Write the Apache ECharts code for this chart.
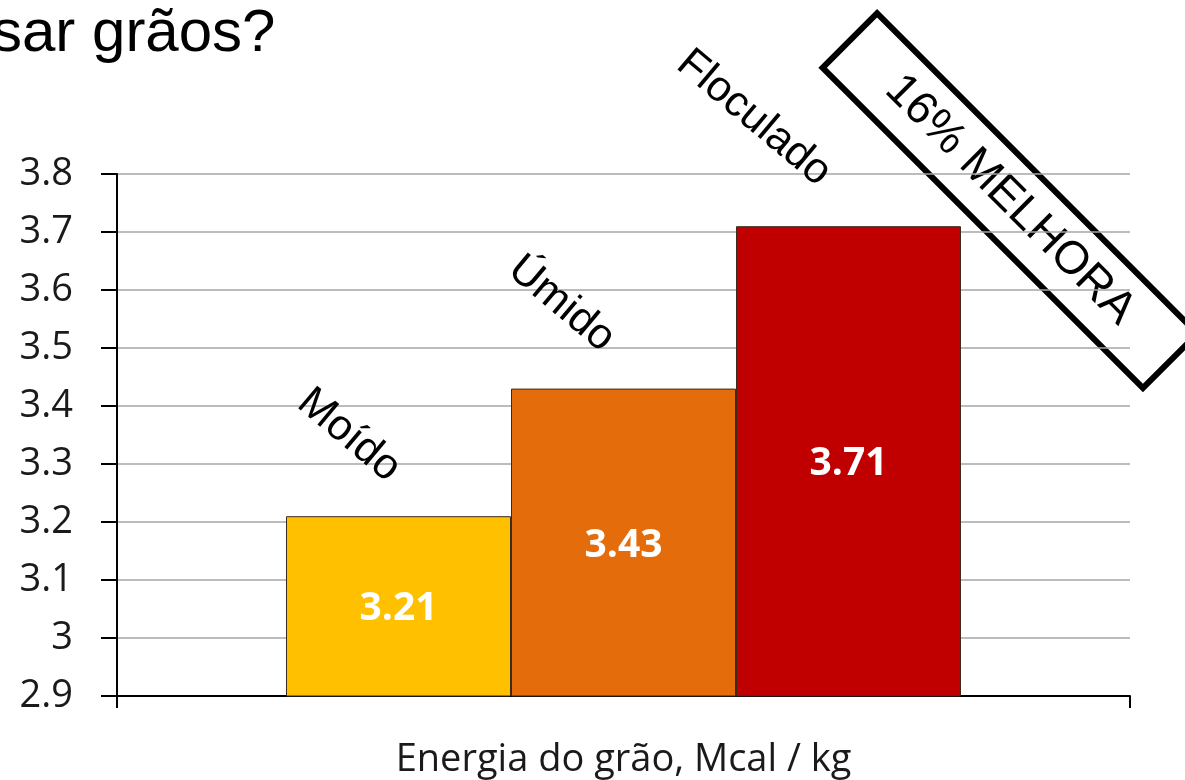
<!DOCTYPE html>
<html>
<head>
<meta charset="utf-8">
<script src="https://cdn.jsdelivr.net/npm/echarts@6/dist/echarts.min.js"></script>
<style>
  html, body { margin: 0; padding: 0; background: #fff; }
  #main { width: 1185px; height: 780px; }
</style>
</head>
<body>
<div id="main"></div>
<script>
// dados
const tipos = ['Moído', 'Úmido', 'Floculado'];
const energia = [3.21, 3.43, 3.71];
const cores = ['#FFC000', '#E46C0A', '#C00000'];
const yMin = 2.9, yMax = 3.8, yStep = 0.1;
const eixoX = 'Energia do grão, Mcal / kg';
const titulo = 'sar grãos?';
const destaque = '16% MELHORA';

// deslocamento dos nomes inclinados (no sistema já girado do texto)
const nomeOffset = [[-90, -30], [-102, -25], [-142, -22]];

let chart = echarts.init(document.getElementById('main'));

let series = tipos.map((t, i) => ({
  name: t,
  type: 'bar',
  data: [energia[i]],
  barWidth: 225,
  barGap: '0%',
  itemStyle: { color: cores[i], borderColor: '#3b2a1e', borderWidth: 1 },
  label: {
    show: true,
    position: 'inside',
    offset: [0, 3],
    formatter: (p) => p.value.toFixed(2),
    color: '#fff',
    fontFamily: 'Open Sans',
    fontWeight: 'bold',
    fontSize: 39
  },
  markPoint: {
    symbol: 'circle',
    symbolSize: 0,
    silent: true,
    data: [{ coord: [0, energia[i]] }],
    label: {
      show: true,
      formatter: t,
      rotate: -40,
      offset: nomeOffset[i],
      color: '#000',
      fontFamily: 'Liberation Sans',
      fontSize: 43
    }
  }
}));

chart.setOption({
  animation: false,
  grid: { left: 117, right: 55, top: 174, bottom: 84, outerBoundsMode: 'none' },
  xAxis: {
    type: 'category',
    data: [''],
    name: eixoX,
    nameLocation: 'middle',
    nameGap: 45,
    nameTextStyle: { fontFamily: 'Open Sans', fontSize: 38, color: '#1a1a1a' },
    axisLine: { lineStyle: { color: '#000', width: 2 } },
    axisTick: { show: true, length: 12, lineStyle: { color: '#000', width: 2 } },
    axisLabel: { show: false }
  },
  yAxis: {
    type: 'value',
    min: yMin,
    max: yMax,
    interval: yStep,
    axisLine: { show: true, lineStyle: { color: '#000', width: 2 } },
    axisTick: { show: true, length: 16, lineStyle: { color: '#000', width: 2 } },
    axisLabel: {
      margin: 44,
      fontFamily: 'Open Sans',
      fontSize: 38,
      color: '#1a1a1a',
      formatter: (v) => String(Math.round(v * 10) / 10)
    },
    splitLine: { lineStyle: { color: '#a6a6a6', width: 1.5 } }
  },
  series: series,
  graphic: [
    {
      type: 'text',
      left: -8,
      top: 4,
      style: { text: titulo, fontFamily: 'Liberation Sans', fontSize: 60, fill: '#000' }
    },
    {
      type: 'group',
      x: 1010,
      y: 200,
      rotation: -Math.PI / 4,
      children: [
        {
          type: 'rect',
          shape: { x: -226, y: -38, width: 453, height: 77 },
          style: { fill: '#fff', stroke: '#000', lineWidth: 6 }
        },
        {
          type: 'text',
          x: 0,
          y: 0,
          style: {
            text: destaque,
            align: 'center',
            verticalAlign: 'middle',
            fontFamily: 'Liberation Sans',
            fontSize: 46,
            fill: '#000'
          }
        }
      ]
    }
  ]
});
</script>
</body>
</html>
